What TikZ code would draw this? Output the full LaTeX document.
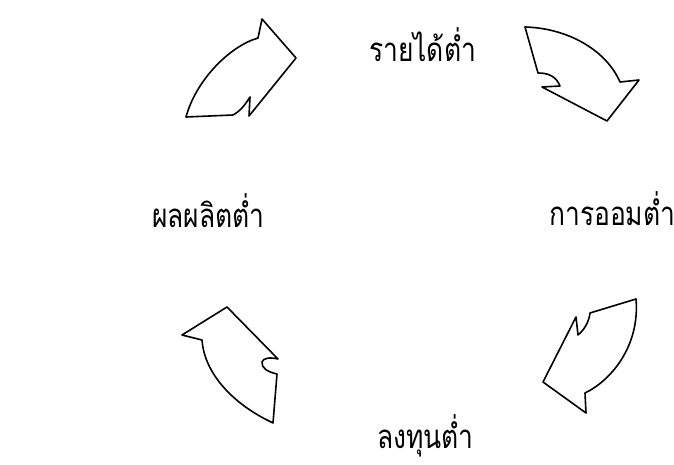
\documentclass[tikz,border=0pt]{standalone}
\usepackage{fontspec}
\newfontfamily\thaifont[Script=Thai,FakeStretch=0.8]{Loma}
\usetikzlibrary{positioning}

\tikzset{
  label/.style={font=\thaifont\fontsize{33}{38}\selectfont, inner sep=0pt, anchor=base west},
  blockarrow/.style={draw=black, line width=1.6pt, line join=round, fill=white}
}

\begin{document}
\begin{tikzpicture}[x=1pt,y=-1pt]

\useasboundingbox (0,0) rectangle (674,465);

\node[label] (income) at (369,62) {รายได้ต่ำ};
\node[label] (saving) at (549,225) {การออมต่ำ};
\node[label] (invest) at (377,448) {ลงทุนต่ำ};
\node[label] (output) at (152,227) {ผลผลิตต่ำ};

% output -> income
\draw[blockarrow] (186,117) -- (233,115)
  .. controls (242,110) and (246,103) .. (250,97)
  -- (249,116) -- (296,58) -- (262,19) -- (258,38)
  .. controls (230,46) and (196,80) .. cycle;

% income -> saving
\draw[blockarrow] (525,27)
  .. controls (565,28) and (605,48) .. (620,82)
  -- (639,80) -- (607,121) -- (542,87) -- (560,86)
  .. controls (556,76) and (548,73) .. (538,73) -- cycle;

% saving -> invest
\draw[blockarrow] (636,299) -- (590,313)
  .. controls (589,322) and (584,330) .. (578,335)
  -- (576,317) -- (543,382) -- (586,413) -- (585,393)
  .. controls (612,380) and (640,345) .. cycle;

% invest -> output
\draw[blockarrow] (273,423) -- (277,374)
  .. controls (268,372) and (261,368) .. (262,362)
  .. controls (263,358) and (270,357) .. (278,359)
  -- (227,307) -- (182,335) -- (202,340)
  .. controls (204,370) and (228,400) .. (267,420) -- cycle;

\end{tikzpicture}
\end{document}
